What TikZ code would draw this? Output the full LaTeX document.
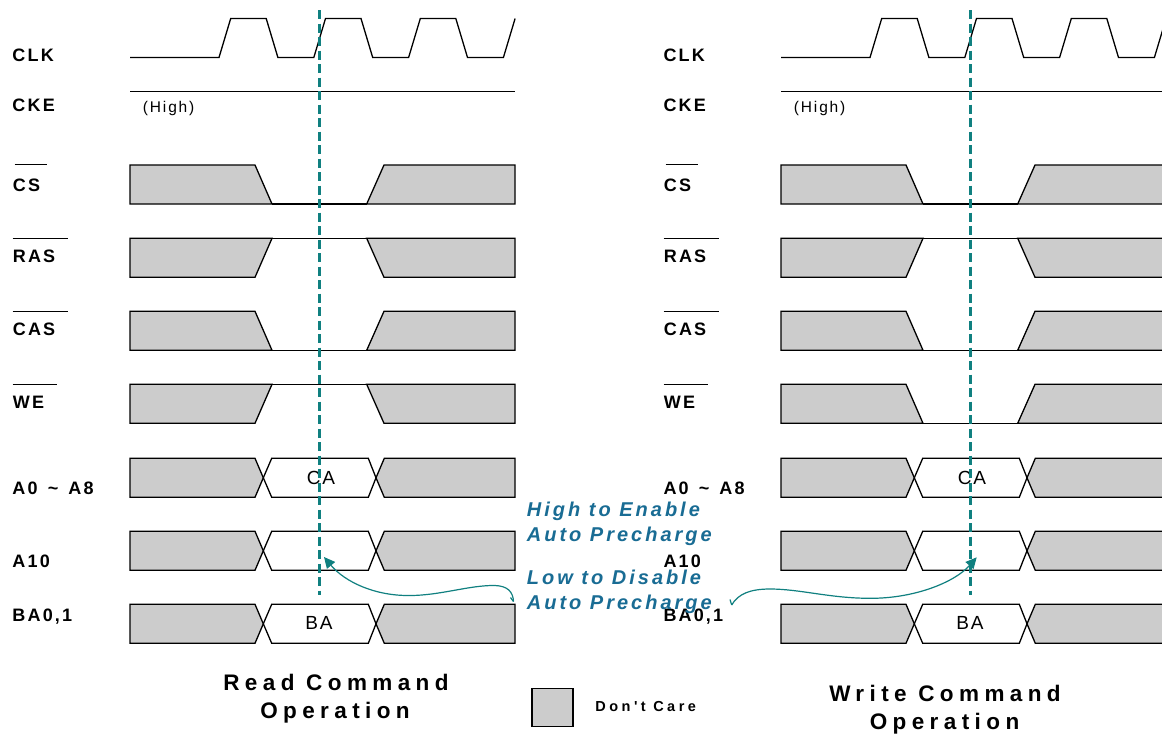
\documentclass[tikz,border=0pt]{standalone}
\usepackage{fontspec}
\setmainfont{Liberation Sans}
\newfontfamily\lblfont[LetterSpace=12]{Liberation Sans}
\newfontfamily\bluefont[LetterSpace=15]{Liberation Sans}
\newfontfamily\ttlfont[LetterSpace=24]{Liberation Sans}
\newfontfamily\cafont[LetterSpace=10]{Liberation Sans}
\usetikzlibrary{arrows.meta}
\definecolor{dcgray}{RGB}{204,204,204}
\definecolor{tealc}{RGB}{16,128,128}
\definecolor{bluet}{RGB}{25,108,148}
\tikzset{
  sig/.style={line width=1.3pt, draw=black, line join=miter},
  dc/.style={sig, fill=dcgray},
  lbl/.style={anchor=base west, inner sep=0pt, font=\lblfont\bfseries\fontsize{18}{21}\selectfont},
  hi/.style={anchor=base west, inner sep=0pt, font=\lblfont\fontsize{15.5}{18}\selectfont},
  ca/.style={anchor=center, inner sep=0pt, font=\cafont\fontsize{19}{22}\selectfont},
  ttl/.style={anchor=base, inner sep=0pt, font=\ttlfont\bfseries\fontsize{22.5}{26}\selectfont},
  leg/.style={anchor=base west, inner sep=0pt, font=\ttlfont\bfseries\fontsize{14.5}{17}\selectfont},
  bt/.style={anchor=base west, inner sep=0pt, text=bluet, font=\bluefont\bfseries\itshape\fontsize{20}{23}\selectfont},
  cmdline/.style={draw=tealc, line width=2.4pt, dash pattern=on 9pt off 4.5pt},
  arr/.style={draw=tealc, line width=1.2pt, -{Triangle[length=11pt,width=10.5pt]}},
  hook/.style={draw=tealc, line width=1.2pt}
}
\newcommand\lowpulse[1]{%
  \filldraw[dc] (130,#1) -- (255,#1) -- (272,{#1+39}) -- (130,{#1+39}) -- cycle;
  \draw[sig] (272,{#1+39}) -- (366.7,{#1+39});
  \filldraw[dc] (366.7,{#1+39}) -- (384,#1) -- (515,#1) -- (515,{#1+39}) -- cycle;}
\newcommand\highpulse[1]{%
  \filldraw[dc] (130,#1) -- (272,#1) -- (255,{#1+39}) -- (130,{#1+39}) -- cycle;
  \draw[sig] (272,#1) -- (366.7,#1);
  \filldraw[dc] (366.7,#1) -- (384,{#1+39}) -- (515,{#1+39}) -- (515,#1) -- cycle;}
\newcommand\busrow[1]{%
  \filldraw[dc] (130,#1) -- (255,#1) -- (263.3,{#1+19.5}) -- (255,{#1+39}) -- (130,{#1+39}) -- cycle;
  \filldraw[sig, fill=white] (263.3,{#1+19.5}) -- (271.7,#1) -- (368.3,#1) -- (376,{#1+19.5}) -- (368.3,{#1+39}) -- (271.7,{#1+39}) -- cycle;
  \filldraw[dc] (515,#1) -- (384.3,#1) -- (376,{#1+19.5}) -- (384.3,{#1+39}) -- (515,{#1+39}) -- cycle;}
\newcommand\timingside[2]{%
  \draw[sig] (130,57.5) -- (219,57.5) -- (230.7,18.5) -- (266.2,18.5) -- (277.9,57.5)
    -- (313.8,57.5) -- (325.5,18.5) -- (361,18.5) -- (372.7,57.5)
    -- (408.6,57.5) -- (420.3,18.5) -- (455.8,18.5) -- (467.5,57.5)
    -- (503.4,57.5) -- (515.1,18.5);
  \draw[sig] (130,91.7) -- (515,91.7);
  \node[lbl] (#1clk) at (12.3,61.7) {CLK};
  \node[lbl] (#1cke) at (12.3,111.7) {CKE};
  \node[hi] (#1high) at (142.7,112.3) {(High)};
  \node[lbl] (#1cs) at (12.7,191.7) {CS};
  \draw[sig] (14.7,164.3) -- (46.5,164.3);
  \node[lbl] (#1ras) at (12.7,262.3) {RAS};
  \draw[sig] (12.7,238.3) -- (67.8,238.3);
  \node[lbl] (#1cas) at (12.7,335) {CAS};
  \draw[sig] (12.7,311.3) -- (67.8,311.3);
  \node[lbl] (#1we) at (12.7,408.3) {WE};
  \draw[sig] (12.7,384.3) -- (56.8,384.3);
  \node[lbl] (#1addr) at (12.3,494.3) {A0\hspace{3pt} \textasciitilde{}\hspace{3pt} A8};
  \node[lbl] (#1aten) at (12.3,567.5) {A10};
  \node[lbl] (#1bank) at (12.3,621.7) {BA0,1};
  \lowpulse{165}
  \highpulse{238.3}
  \lowpulse{311.3}
  \ifnum#2=0 \highpulse{384.3}\else\lowpulse{384.3}\fi
  \busrow{458.3}
  \busrow{531.3}
  \busrow{604.3}
  \node[ca] (#1ca) at (321,477.7) {CA};
  \node[ca] (#1ba) at (319,623.3) {BA};
  \coordinate (#1top) at (319.3,10);
  \coordinate (#1bot) at (319.3,594.5);
  \draw[cmdline] (#1top) -- (#1bot);
}
\begin{document}
\begin{tikzpicture}[x=1pt,y=-1pt]
\clip (0,0) rectangle (1162,734);
\fill[white] (0,0) rectangle (1162,734);
\timingside{L}{0}
\begin{scope}[xshift=651pt]
\timingside{R}{1}
\end{scope}
% arrows
\coordinate (Lhk) at (510.5,597.5);
\coordinate (Ltail) at (513.5,601.5);
\coordinate (Ltip) at (324,557);
\draw[hook] (Lhk) -- (Ltail);
\draw[arr] (Ltail) .. controls (513,592) and (508,586) .. (495,585.5)
  .. controls (470,585) and (440,595.5) .. (410,595.5)
  .. controls (375,596) and (345,582) .. (Ltip);
\coordinate (Rhk) at (730,599.5);
\coordinate (Rtail) at (731.7,605);
\coordinate (Rtip) at (976.7,557.3);
\draw[hook] (Rhk) -- (Rtail);
\draw[arr] (Rtail) .. controls (738,594) and (750,589) .. (770,589)
  .. controls (800,589) and (830,598.3) .. (870,598.3)
  .. controls (915,598.5) and (955,582) .. (Rtip);
% titles and legend
\node[ttl] (rdt1) at (336,690.7) {Read Command};
\node[ttl] (rdt2) at (335,718.3) {Operation};
\node[ttl] (wrt1) at (945,701) {Write Command};
\node[ttl] (wrt2) at (944.5,729) {Operation};
\node[dc, minimum width=41pt, minimum height=38.3pt, inner sep=0pt, anchor=north west] (legbox) at (531.3,687.7) {};
\node[leg] (legtxt) at (595.2,711.7) {Don't Care};
% blue notes
\node[bt] (n1) at (526.7,516.7) {High to Enable};
\node[bt] (n2) at (526.7,541.7) {Auto Precharge};
\node[bt] (n3) at (526.7,584.3) {Low to Disable};
\node[bt] (n4) at (526.7,609) {Auto Precharge};
\end{tikzpicture}
\end{document}
